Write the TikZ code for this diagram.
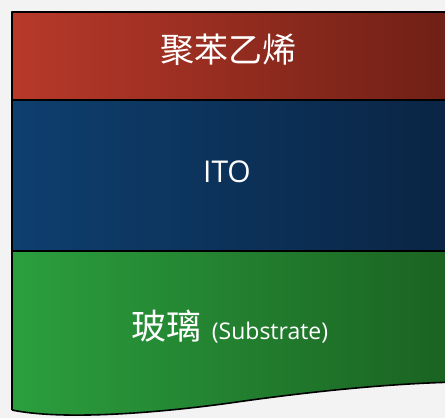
\documentclass[tikz,border=0pt]{standalone}
\usepackage{fontspec}
\setmainfont{Open Sans}
\newfontfamily\cjk{Noto Sans CJK SC}
\definecolor{bgcol}{HTML}{F3F3F3}
\definecolor{redL}{HTML}{B8392A}
\definecolor{redR}{HTML}{6E1F15}
\definecolor{blueL}{HTML}{0E3F6F}
\definecolor{blueR}{HTML}{0A2443}
\definecolor{greenL}{HTML}{2B9F3E}
\definecolor{greenR}{HTML}{1A6121}
\tikzset{
  lbl/.style={text=white, inner sep=0pt, anchor=center},
  edge/.style={line width=1.6pt, black, line join=round}
}
\begin{document}
\begin{tikzpicture}[x=1pt,y=-1pt]
\fill[bgcol] (0,0) rectangle (445,418);
\useasboundingbox (0,0) rectangle (445,418);
\clip (0,0) rectangle (445,418);
% layers
\shade[left color=redL, right color=redR] (12,12) rectangle (460,100);
\shade[left color=blueL, right color=blueR] (12,100) rectangle (460,251);
\shade[left color=greenL, right color=greenR]
  (12,251) -- (12,410) .. controls (60,420) and (150,414) .. (230,403)
  .. controls (320,390) and (400,383) .. (460,382) -- (460,251) -- cycle;
% borders
\draw[edge] (460,12) -- (12,12) -- (12,410);
\draw[edge] (12,100) -- (460,100);
\draw[edge] (12,251) -- (460,251);
\draw[edge] (12,410) .. controls (60,420) and (150,414) .. (230,403)
  .. controls (320,390) and (400,383) .. (460,382);
% labels
\node[lbl, font=\cjk\fontsize{34}{38}\selectfont] (ps) at (228,50) {聚苯乙烯};
\node[lbl, font=\fontsize{30}{34}\selectfont] (ito) at (227,172) {ITO};
\node[lbl] (glass) at (230,327) {{\cjk\fontsize{35}{38}\selectfont 玻璃}\hspace{10pt}{\fontsize{23}{27}\selectfont (Substrate)}};
\end{tikzpicture}
\end{document}
